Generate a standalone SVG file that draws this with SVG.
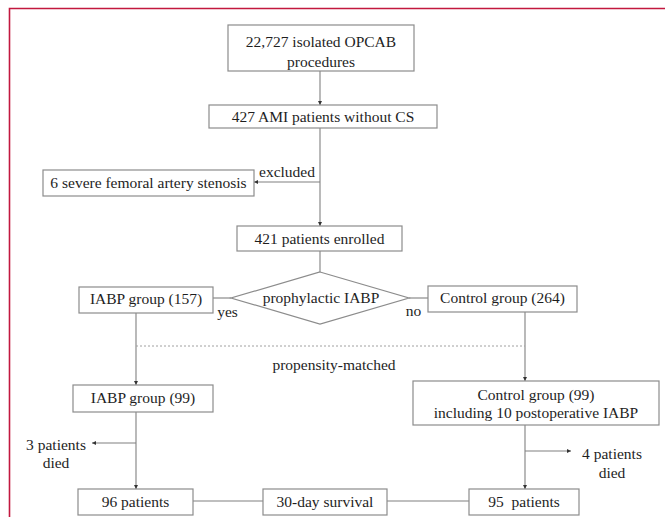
<svg xmlns="http://www.w3.org/2000/svg" width="665" height="517" viewBox="0 0 665 517">
<defs>
<style>
.bx{fill:#fff;stroke:#8c8c8c;stroke-width:1.2}
.t{font-family:"Liberation Serif","Times New Roman",serif;font-size:15.5px;fill:#1e1e1e;text-anchor:middle}
.ln{stroke:#808080;stroke-width:1.1;fill:none}
.dot{stroke:#a0a0a0;stroke-width:1;stroke-dasharray:2 2;fill:none}
</style>
<marker id="ah" markerUnits="userSpaceOnUse" markerWidth="5" markerHeight="5" refX="4" refY="2.5" orient="auto">
<path d="M0,0.5 L4,2.5 L0,4.5 z" fill="#333"/>
</marker>
</defs>
<rect width="665" height="517" fill="#fff"/>
<path d="M665,8.5 H9.5 V517" fill="none" stroke="#c2183f" stroke-width="1.6"/>

<g id="connectors">
<line class="ln" x1="320" y1="71" x2="320" y2="105" marker-end="url(#ah)"/>
<line class="ln" x1="320" y1="128" x2="320" y2="226" marker-end="url(#ah)"/>
<line class="ln" x1="320" y1="182" x2="254" y2="182" marker-end="url(#ah)"/>
<line class="ln" x1="320" y1="251" x2="320" y2="272"/>
<line class="ln" x1="213" y1="298" x2="231" y2="298"/>
<line class="ln" x1="409" y1="298" x2="428" y2="298"/>
<line class="ln" x1="136" y1="313" x2="136" y2="385" marker-end="url(#ah)"/>
<line class="ln" x1="525" y1="312" x2="525" y2="381" marker-end="url(#ah)"/>
<line class="dot" x1="136" y1="346" x2="525" y2="346"/>
<line class="ln" x1="136" y1="412" x2="136" y2="489" marker-end="url(#ah)"/>
<line class="ln" x1="136" y1="443" x2="92" y2="443" marker-end="url(#ah)"/>
<line class="ln" x1="525" y1="425" x2="525" y2="489" marker-end="url(#ah)"/>
<line class="ln" x1="525" y1="451" x2="571" y2="451" marker-end="url(#ah)"/>
<line class="ln" x1="193" y1="501" x2="263" y2="501"/>
<line class="ln" x1="387" y1="501" x2="469" y2="501"/>
</g>

<g id="n_opcab">
<rect class="bx" x="228" y="25" width="186" height="46"/>
<text class="t" x="321" y="47">22,727 isolated OPCAB</text>
<text class="t" x="321" y="67">procedures</text>
</g>
<g id="n_ami">
<rect class="bx" x="209" y="105" width="228" height="23"/>
<text class="t" x="323" y="121.5">427 AMI patients without CS</text>
</g>
<g id="n_excl">
<rect class="bx" x="43" y="170" width="211" height="26"/>
<text class="t" x="148.5" y="188">6 severe femoral artery stenosis</text>
</g>
<g id="l_excluded">
<text class="t" x="287" y="177">excluded</text>
</g>
<g id="n_enrolled">
<rect class="bx" x="237" y="226" width="165" height="25"/>
<text class="t" x="319.5" y="243.5">421 patients enrolled</text>
</g>
<g id="n_decision">
<polygon class="bx" points="320,272 409,298 320,324 231,298"/>
<text class="t" x="321" y="303">prophylactic IABP</text>
</g>
<g id="n_iabp157">
<rect class="bx" x="79" y="287" width="134" height="26"/>
<text class="t" x="146" y="304">IABP group (157)</text>
</g>
<g id="l_yes"><text class="t" x="227.5" y="317">yes</text></g>
<g id="l_no"><text class="t" x="413.5" y="316">no</text></g>
<g id="n_ctrl264">
<rect class="bx" x="428" y="286" width="149" height="26"/>
<text class="t" x="502.5" y="303">Control group (264)</text>
</g>
<g id="l_psm"><text class="t" x="334" y="370">propensity-matched</text></g>
<g id="n_iabp99">
<rect class="bx" x="73" y="385" width="140" height="27"/>
<text class="t" x="143" y="403">IABP group (99)</text>
</g>
<g id="n_ctrl99">
<rect class="bx" x="413" y="381" width="246" height="44"/>
<text class="t" x="536" y="400">Control group (99)</text>
<text class="t" x="536" y="418">including 10 postoperative IABP</text>
</g>
<g id="l_died3">
<text class="t" x="56" y="450">3 patients</text>
<text class="t" x="56" y="468">died</text>
</g>
<g id="l_died4">
<text class="t" x="612" y="459">4 patients</text>
<text class="t" x="612" y="478">died</text>
</g>
<g id="n_96">
<rect class="bx" x="78" y="489" width="115" height="26"/>
<text class="t" x="135.5" y="507">96 patients</text>
</g>
<g id="n_surv">
<rect class="bx" x="263" y="489" width="124" height="26"/>
<text class="t" x="325" y="507">30-day survival</text>
</g>
<g id="n_95">
<rect class="bx" x="469" y="489" width="110" height="26"/>
<text class="t" x="524" y="507" xml:space="preserve">95  patients</text>
</g>
</svg>
